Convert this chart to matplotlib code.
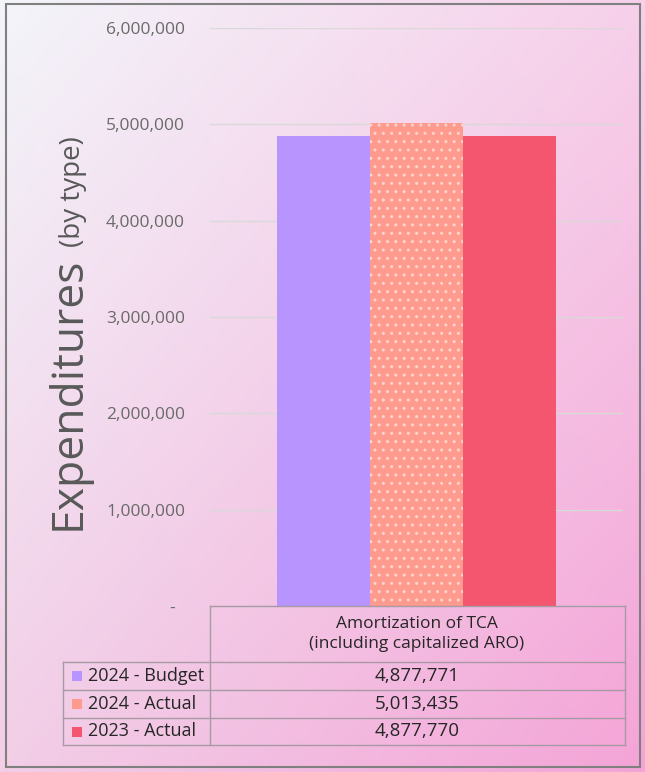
import numpy as np
import matplotlib
matplotlib.use("Agg")
import matplotlib.pyplot as plt
from matplotlib.patches import Rectangle
from matplotlib.ticker import FuncFormatter

plt.rcParams['font.family'] = ['Open Sans', 'DejaVu Sans']

# data
category = "Amortization of TCA\n(including capitalized ARO)"
series = ["2024 - Budget", "2024 - Actual", "2023 - Actual"]
values = [4877771, 5013435, 4877770]
colors = ["#B894FF", "#FF9A8F", "#F5566F"]
hatches = [None, "..", None]
yticks = [0, 1000000, 2000000, 3000000, 4000000, 5000000, 6000000]

W, H = 645, 772
fig = plt.figure(figsize=(W / 100, H / 100), dpi=100)

# gradient background, light top-left to pink bottom-right
bg = fig.add_axes([0, 0, 1, 1], zorder=-2)
tl = np.array([243, 245, 250]) / 255
tr = np.array([247, 208, 234]) / 255
bl = np.array([242, 206, 231]) / 255
br = np.array([244, 164, 215]) / 255
u = np.linspace(0, 1, 200)[None, :, None]
v = np.linspace(0, 1, 240)[:, None, None]
img = (1 - v) * ((1 - u) * tl + u * tr) + v * ((1 - u) * bl + u * br)
bg.imshow(img, extent=[0, W, H, 0], aspect='auto')
bg.set_xlim(0, W)
bg.set_ylim(H, 0)
bg.axis('off')
bg.add_patch(Rectangle((6, 4), W - 11, H - 9, fill=False, ec="#808080", lw=1.5))


def px(x0, y0, x1, y1):
    return [x0 / W, 1 - y1 / H, (x1 - x0) / W, (y1 - y0) / H]


ax = fig.add_axes(px(210, 28, 623, 606))
ax.patch.set_alpha(0)
bw = 0.2245
offs = [-bw, 0, bw]
for i, (s, val) in enumerate(zip(series, values)):
    if hatches[i]:
        ax.bar(offs[i], val, bw, color=colors[i], edgecolor="#FFD4CD",
               hatch=hatches[i], linewidth=0, zorder=3)
    else:
        ax.bar(offs[i], val, bw, color=colors[i], linewidth=0, zorder=3)
ax.set_xlim(-0.5, 0.5)
ax.set_ylim(0, 6000000)
ax.set_yticks(yticks)
ax.yaxis.set_major_formatter(FuncFormatter(lambda y, p: "-  " if y == 0 else f"{y:,.0f}"))
ax.tick_params(axis='y', length=0, pad=18, labelsize=12.5, labelcolor="#6A6A6A")
ax.set_xticks([])
ax.grid(axis='y', color="#D9D9D9", lw=1, zorder=0)
for sp in ax.spines.values():
    sp.set_visible(False)

# y axis title: two font sizes sharing one baseline
base_x = 80 / W
fig.text(base_x, 1 - 530 / H, "Expenditures", rotation=90, rotation_mode='anchor',
         fontsize=32, color="#595959", ha='left', va='baseline')
fig.text(base_x, 1 - 136 / H, "(by type)", rotation=90, rotation_mode='anchor',
         fontsize=20, color="#595959", ha='right', va='baseline')

# data table below the plot
tb = fig.add_axes([0, 0, 1, 1], zorder=2)
tb.patch.set_alpha(0)
tb.set_xlim(0, W)
tb.set_ylim(H, 0)
tb.axis('off')
lc = "#A89AA4"
rows_y = [662, 690, 718, 745]
tb.plot([210, 625], [606, 606], color=lc, lw=1)
for y in rows_y:
    tb.plot([63, 625], [y, y], color=lc, lw=1)
tb.plot([63, 63], [662, 745], color=lc, lw=1)
tb.plot([210, 210], [606, 745], color=lc, lw=1)
tb.plot([625, 625], [606, 745], color=lc, lw=1)
tb.text(417, 634, category, ha='center', va='center', fontsize=12.5,
        color="#262626", linespacing=1.3)
for i, (s, val) in enumerate(zip(series, values)):
    yc = (rows_y[i] + rows_y[i + 1]) / 2
    tb.add_patch(Rectangle((72, yc - 5), 10, 10, color=colors[i], lw=0))
    tb.text(88, yc, s, ha='left', va='center', fontsize=13, color="#262626")
    tb.text(417, yc, f"{val:,}", ha='center', va='center', fontsize=13.5, color="#262626")

fig.savefig("out.png", dpi=100)
